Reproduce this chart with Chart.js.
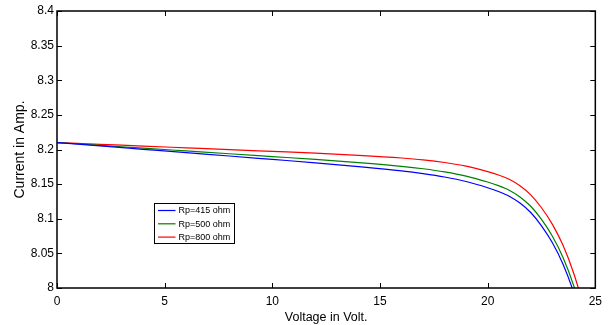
<!DOCTYPE html>
<html>
<head>
<meta charset="utf-8">
<script src="https://cdn.jsdelivr.net/npm/chart.js@4/dist/chart.umd.min.js"></script>
<style>
  html, body { margin: 0; padding: 0; background: #fff; }
  #wrap { width: 608px; height: 325px; }
</style>
</head>
<body>
<div id="wrap"><canvas id="ivChart"></canvas></div>
<script>
// ---- data ----
const voltage = [0, 2, 4, 6, 8, 10, 12, 14, 16, 17, 18, 19, 20, 20.5, 21, 21.5, 22, 22.5, 23, 23.5, 24, 24.5];
const rp415   = [8.2100, 8.2052, 8.2003, 8.1954, 8.1906, 8.1857, 8.1808, 8.1754, 8.1692, 8.1652, 8.1603, 8.1538,
                 8.1448, 8.1394, 8.1326, 8.1227, 8.1090, 8.0898, 8.0656, 8.0344, 7.9932, 7.9400];
const rp500   = [8.2100, 8.2060, 8.2019, 8.1979, 8.1939, 8.1898, 8.1857, 8.1811, 8.1757, 8.1722, 8.1677, 8.1616,
                 8.1530, 8.1478, 8.1412, 8.1315, 8.1180, 8.0990, 8.0750, 8.0440, 8.0030, 7.9510];
const rp800   = [8.2100, 8.2075, 8.2049, 8.2024, 8.1999, 8.1973, 8.1947, 8.1916, 8.1877, 8.1850, 8.1812, 8.1759,
                 8.1680, 8.1632, 8.1570, 8.1476, 8.1345, 8.1159, 8.0923, 8.0616, 8.0210, 7.9694];
const seriesLabels = ['Rp=415 ohm', 'Rp=500 ohm', 'Rp=800 ohm'];
const seriesColors = ['#0000ff', '#008000', '#ff0000'];
const xTicks = [0, 5, 10, 15, 20, 25];
const yTicks = [8, 8.05, 8.1, 8.15, 8.2, 8.25, 8.3, 8.35, 8.4];

const FONT = '"Liberation Sans", Arial, Helvetica, sans-serif';

const toPoints = ys => voltage.map((v, i) => ({ x: v, y: ys[i] }));

// MATLAB style box with inward ticks on all four sides, plus legend inside the plot
const matlabAxes = {
  id: 'matlabAxes',
  afterDatasetsDraw(chart) {
    const { ctx, chartArea: a, scales: { x, y } } = chart;
    const L = 5;
    ctx.save();
    ctx.strokeStyle = '#000';
    ctx.lineWidth = 1;
    ctx.beginPath();
    xTicks.forEach(t => {
      const px = Math.round(x.getPixelForValue(t)) + 0.5;
      ctx.moveTo(px, a.bottom); ctx.lineTo(px, a.bottom - L);
      ctx.moveTo(px, a.top);    ctx.lineTo(px, a.top + L);
    });
    yTicks.forEach(t => {
      const py = Math.round(y.getPixelForValue(t)) + 0.5;
      ctx.moveTo(a.left, py);  ctx.lineTo(a.left + L, py);
      ctx.moveTo(a.right, py); ctx.lineTo(a.right - L, py);
    });
    ctx.stroke();
    ctx.lineWidth = 1.5;
    ctx.strokeRect(a.left, a.top, a.right - a.left, a.bottom - a.top);

    // legend
    const bx = 154.5, by = 203.5, bw = 80, bh = 40;
    ctx.fillStyle = '#fff';
    ctx.fillRect(bx, by, bw, bh);
    ctx.lineWidth = 1;
    ctx.strokeRect(bx, by, bw, bh);
    ctx.font = '9px ' + FONT;
    ctx.textBaseline = 'middle';
    chart.data.datasets.forEach((ds, i) => {
      const ly = by + 7 + i * 13.3;
      ctx.strokeStyle = ds.borderColor;
      ctx.lineWidth = 1.2;
      ctx.beginPath();
      ctx.moveTo(bx + 3.5, ly); ctx.lineTo(bx + 21, ly);
      ctx.stroke();
      ctx.fillStyle = '#000';
      ctx.fillText(ds.label, bx + 24, ly + 0.5);
    });
    ctx.restore();
  }
};

new Chart(document.getElementById('ivChart'), {
  type: 'line',
  data: {
    datasets: [rp415, rp500, rp800].map((ys, i) => ({
      label: seriesLabels[i],
      data: toPoints(ys),
      borderColor: seriesColors[i],
      borderWidth: 1.2,
      pointRadius: 0,
      fill: false,
      cubicInterpolationMode: 'monotone'
    }))
  },
  options: {
    responsive: true,
    maintainAspectRatio: false,
    animation: false,
    layout: { padding: { left: 0, top: 11, right: 11, bottom: 0 } },
    plugins: { legend: { display: false }, tooltip: { enabled: false } },
    scales: {
      x: {
        type: 'linear',
        min: 0, max: 25,
        afterBuildTicks: s => { s.ticks = xTicks.map(v => ({ value: v })); },
        afterFit: s => { s.height = 37; },
        grid: { display: false, drawTicks: false },
        border: { display: false },
        ticks: { color: '#000', padding: 6, maxRotation: 0, font: { family: FONT, size: 12 } },
        title: { display: true, text: 'Voltage in Volt.', color: '#000',
                 padding: { top: 3.5, bottom: 0 }, font: { family: FONT, size: 12.5 } }
      },
      y: {
        type: 'linear',
        min: 8, max: 8.4,
        afterBuildTicks: s => { s.ticks = yTicks.map(v => ({ value: v })); },
        afterFit: s => { s.width = 57; },
        grid: { display: false, drawTicks: false },
        border: { display: false },
        ticks: { color: '#000', padding: 3, font: { family: FONT, size: 12 },
                 callback: v => String(+v.toFixed(2)) },
        title: { display: true, text: 'Current in Amp.', color: '#000',
                 padding: { top: 12, bottom: 0 }, font: { family: FONT, size: 14 } }
      }
    }
  },
  plugins: [matlabAxes]
});
</script>
</body>
</html>
